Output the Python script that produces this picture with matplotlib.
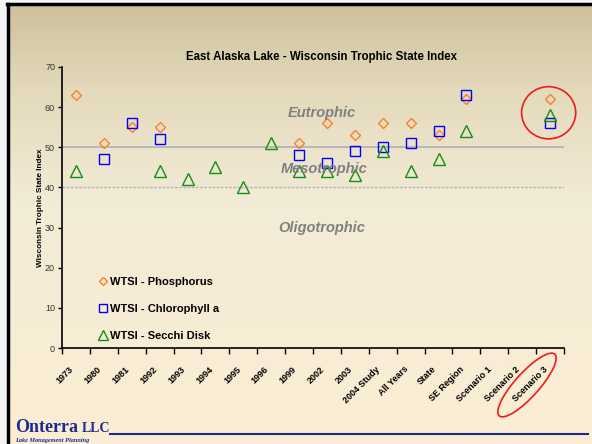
import numpy as np
import matplotlib
matplotlib.use("Agg")
import matplotlib.pyplot as plt
from matplotlib.patches import Ellipse
from matplotlib.lines import Line2D

plt.rcParams['font.family'] = ['Liberation Sans', 'DejaVu Sans']

categories = ['1973', '1980', '1981', '1992', '1993', '1994', '1995', '1996', '1999',
              '2002', '2003', '2004 Study', 'All Years', 'State', 'SE Region',
              'Scenario 1', 'Scenario 2', 'Scenario 3']
nan = np.nan
phosphorus = [63, 51, 55, 55, nan, nan, nan, nan, 51, 56, 53, 56, 56, 53, 62, nan, nan, 62]
chlorophyll = [nan, 47, 56, 52, nan, nan, nan, nan, 48, 46, 49, 50, 51, 54, 63, nan, nan, 56]
secchi = [44, nan, nan, 44, 42, 45, 40, 51, 44, 44, 43, 49, 44, 47, 54, nan, nan, 58]

W, H = 592, 444
fig = plt.figure(figsize=(W / 100, H / 100), dpi=100)
fig.patch.set_facecolor('#f4f4f4')

# slide background gradient
bg = fig.add_axes([8 / W, 0, 1 - 8 / W, 1 - 4 / H])
stops = np.array([0.0, 0.2, 0.45, 1.0])
cols = np.array([[205, 192, 155], [228, 218, 188], [242, 235, 214], [252, 238, 212]]) / 255
t = np.linspace(0, 1, 300)
grad = np.stack([np.interp(t, stops, cols[:, k]) for k in range(3)], axis=1)
bg.imshow(grad[:, None, :], aspect='auto', extent=[0, 1, 0, 1])
bg.set_axis_off()

# slide border
fig.add_artist(Line2D([8 / W, 8 / W], [0, 1 - 4 / H], color='black', lw=2.5))
fig.add_artist(Line2D([7 / W, 1], [1 - 4 / H, 1 - 4 / H], color='black', lw=2.5))

ax = fig.add_axes([62 / W, 1 - 348 / H, 502 / W, 281 / H])
ax.set_facecolor('none')
x = np.arange(len(categories))

ax.axhline(50, color='#b4b4b4', lw=1.3, zorder=1)
ax.axhline(40, color='#b4b4b4', lw=1.0, ls=(0, (2, 1)), zorder=1)

zone_style = dict(ha='center', va='center', fontsize=10.5, fontweight='bold',
                  fontstyle='italic', color='#808080')
ax.text(8.8, 58.6, 'Eutrophic', **zone_style)
ax.text(8.9, 44.5, 'Mesotrophic', **zone_style)
ax.text(8.8, 30, 'Oligotrophic', **zone_style)

ax.plot(x, phosphorus, ls='none', marker='D', ms=5, mfc='none', mec='#ff7f27', mew=1,
        label='WTSI - Phosphorus')
ax.plot(x, chlorophyll, ls='none', marker='s', ms=7.5, mfc='none', mec='#0000ff', mew=1,
        label='WTSI - Chlorophyll a')
ax.plot(x, secchi, ls='none', marker='^', ms=8.5, mfc='none', mec='#139013', mew=1,
        label='WTSI - Secchi Disk')

ax.set_xlim(-0.5, len(categories) - 0.5)
ax.set_ylim(0, 70)
ax.set_yticks(range(0, 71, 10))
ax.set_xticks(np.arange(-0.5, len(categories)), minor=False)
ax.set_xticklabels([])
# label ticks sit a little left of the category centre, as in the original slide
ax.set_xticks(x - 0.25, minor=True)
ax.set_xticklabels(categories, minor=True, rotation=45, ha='right', va='top',
                   rotation_mode='anchor', fontsize=6.5, fontweight='bold')
ax.tick_params(axis='x', which='major', direction='out', length=4, width=1)
ax.tick_params(axis='x', which='minor', length=0, pad=12)
ax.tick_params(axis='y', direction='out', length=3, width=1, labelsize=6.5,
               labelcolor='#333333', pad=2)
for s in ['top', 'right']:
    ax.spines[s].set_visible(False)
for s in ['left', 'bottom']:
    ax.spines[s].set_linewidth(1.2)

ax.set_title('East Alaska Lake - Wisconsin Trophic State Index', fontsize=8.3,
             fontweight='bold', pad=5, x=0.517)
ax.set_ylabel('Wisconsin Trophic State Index', fontsize=5.9, fontweight='bold', labelpad=1)

leg = ax.legend(loc='lower left', bbox_to_anchor=(0.072, 0.025), frameon=False,
                prop={'size': 8, 'weight': 'bold'}, handlelength=0.8, handletextpad=0.3,
                labelspacing=1.55, borderpad=0, borderaxespad=0, markerscale=0.85)

# red highlight around scenario 3
ax.add_patch(Ellipse((16.95, 58.6), 1.94, 13.0, fill=False, ec='#ee1c1c', lw=1.2,
                     clip_on=False))
fig.add_artist(Ellipse((5.27, 0.59), 0.83, 0.24, angle=48, fill=False, ec='#ee1c1c',
                       lw=1.2, transform=fig.dpi_scale_trans))

# logo and footer line
fig.text(15 / W, 1 - 432 / H, 'Onterra', fontsize=13, fontweight='bold',
         family='Liberation Serif', color='#1c2c94', va='baseline')
fig.text(82 / W, 1 - 432 / H, 'LLC', fontsize=10, fontweight='bold',
         family='Liberation Serif', color='#1c2c94', va='baseline')
fig.text(15 / W, 1 - 442 / H, 'Lake Management Planning', fontsize=4.5, fontweight='bold',
         fontstyle='italic', family='Liberation Serif', color='#1c2c94', va='baseline')
fig.add_artist(Line2D([110 / W, 588 / W], [1 - 434 / H, 1 - 434 / H], color='#1f2a80', lw=1.5))

fig.savefig('out.png', dpi=100, facecolor=fig.get_facecolor())
